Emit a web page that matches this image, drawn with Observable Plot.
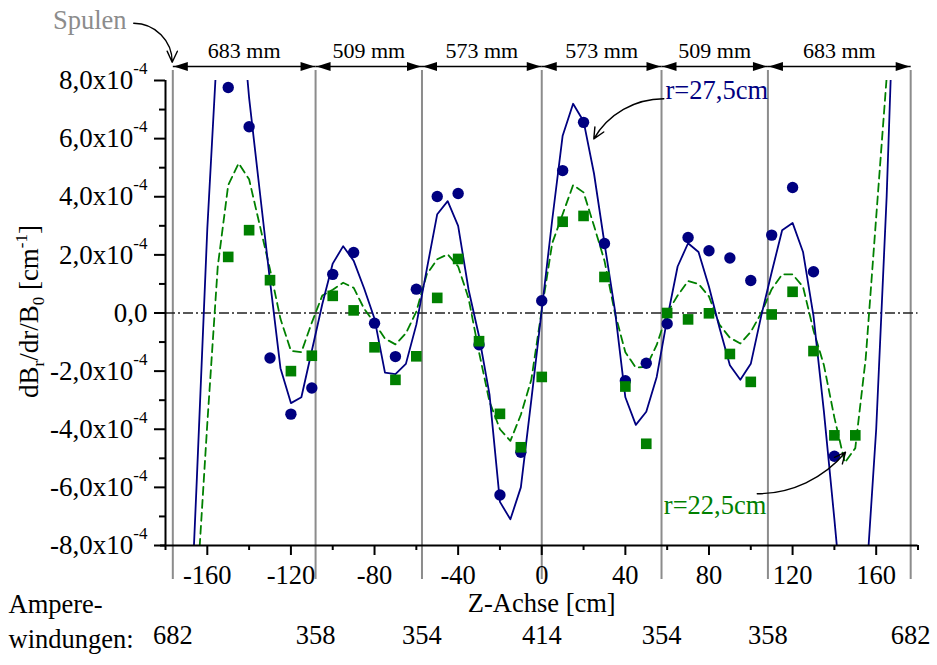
<!DOCTYPE html>
<html><head><meta charset="utf-8">
<script src="https://cdn.jsdelivr.net/npm/d3@7"></script>
<script src="https://cdn.jsdelivr.net/npm/@observablehq/plot@0.6"></script>
<style>
html,body{margin:0;padding:0;background:#fff;}
#chart svg{display:block;}
</style></head><body><div id="chart"></div>
<script>
// ---- data (values in units of 1e-4 cm^-1) ----
const coilZ = [-176.5, -108.2, -57.3, 0, 57.3, 108.2, 176.5];
const coilGaps = ["683 mm", "509 mm", "573 mm", "573 mm", "509 mm", "683 mm"];
const ampereTurns = ["682", "358", "354", "414", "354", "358", "682"];

const measZ27 = [-150,-140,-130,-120,-110,-100,-90,-80,-70,-60,-50,-40,-30,-20,-10,0,10,20,30,40,50,60,70,80,90,100,110,120,130,140];
const meas27  = [7.76,6.41,-1.55,-3.48,-2.58,1.33,2.08,-0.35,-1.5,0.82,4.01,4.11,-1.09,-6.26,-4.79,0.42,4.9,6.56,2.39,-2.33,-1.73,-0.37,2.6,2.14,1.89,1.12,2.68,4.32,1.42,-4.93];

const measZ22 = [-150,-140,-130,-120,-110,-100,-90,-80,-70,-60,-50,-40,-30,-20,-10,0,10,20,30,40,50,60,70,80,90,100,110,120,130,140,150];
const meas22  = [1.93,2.85,1.13,-2.0,-1.47,0.59,0.09,-1.18,-2.3,-1.49,0.52,1.86,-0.97,-3.47,-4.62,-2.2,3.14,3.34,1.24,-2.53,-4.5,0.0,-0.22,-0.01,-1.41,-2.37,-0.05,0.73,-1.31,-4.21,-4.21];

const simZ = [-180,-175,-170,-165,-160,-155,-150,-145,-140,-135,-130,-125,-120,-115,-110,-105,-100,-95,-90,-85,-80,-75,-70,-65,-60,-55,-50,-45,-40,-35,-30,-25,-20,-15,-10,-5,0,5,10,15,20,25,30,35,40,45,50,55,60,65,70,75,80,85,90,95,100,105,110,115,120,125,130,135,140,145,150,155,160,165,170,175,180];
const sim27 = [-32,-23,-14,-5.7,2.9,9.5,13,11.5,7.4,4.25,1.1,-1.9,-3.1,-2.9,-1.3,0.3,1.7,2.3,1.8,0.85,-0.2,-2.05,-2.1,-1.75,-0.4,1.5,3.4,3.85,3.0,0.8,-0.8,-2.8,-6.5,-7.1,-6.0,-3.0,0.1,3.2,6.1,7.2,6.6,4.8,2.4,0.1,-2.9,-3.85,-3.4,-2.2,-0.2,1.6,2.4,2.1,0.9,-0.5,-1.8,-2.3,-1.75,-0.1,1.4,2.85,3.1,2.1,-0.1,-3.4,-7.1,-11,-13,-9.5,-4.0,4.0,14.5,24,34];
const sim22 = [-25,-19,-14,-9.6,-3.8,1.6,4.4,5.15,4.6,3.05,1.5,-0.2,-1.3,-1.35,-0.33,0.6,0.8,1.04,0.87,0.15,-0.35,-0.88,-1.08,-0.7,0.05,1.33,1.85,2.02,1.6,0.5,-1.35,-3.05,-4.0,-4.4,-3.5,-2.3,0.1,2.4,3.4,4.4,4.15,3.0,1.8,0.0,-1.35,-1.88,-1.85,-1.1,0.0,0.6,1.1,1.0,0.57,-0.4,-0.85,-1.05,-0.65,0.0,0.82,1.33,1.33,0.9,-0.6,-1.8,-3.6,-5.15,-4.65,-1.55,3.3,8.1,13,19,25];

const xMajorTicks = [-160,-120,-80,-40,0,40,80,120,160];
const xMinorTicks = [-180,-140,-100,-60,-20,20,60,100,140,180];
const yMajorTicks = [-8,-6,-4,-2,0,2,4,6,8];
const yMinorTicks = [-7,-5,-3,-1,1,3,5,7];

const xLabel = "Z-Achse [cm]";
const label27 = "r=27,5cm";
const label22 = "r=22,5cm";
const labelCoils = "Spulen";
const ampLines = ["Ampere-", "windungen:"];

// annotation anchor points (data units)
const posSpulen = {x: -198.6, y: 10.06};
const pos27 = {x: 59.2, y: 7.67};
const pos22 = {x: 58.4, y: -6.61};
const arrowSpulen = {x1: -195.2, y1: 9.97, x2: -176.8, y2: 8.63};
const arrow27 = {x1: 58.4, y1: 7.37, x2: 24.9, y2: 5.99};
const arrow22 = {x1: 103.1, y1: -6.22, x2: 145.3, y2: -4.79};

// ---- derived tables ----
const dots27 = measZ27.map((z, i) => ({z, v: meas27[i]}));
const dots22 = measZ22.map((z, i) => ({z, v: meas22[i]}));
const line27 = simZ.map((z, i) => ({z, v: sim27[i]}));
const line22 = simZ.map((z, i) => ({z, v: sim22[i]}));
const segs = coilGaps.map((label, i) => ({x1: coilZ[i], x2: coilZ[i + 1], mid: (coilZ[i] + coilZ[i + 1]) / 2, label}));
const coils = coilZ.map((z, i) => ({z, amp: ampereTurns[i]}));

const headRight = {draw(ctx) { ctx.moveTo(0, 0); ctx.lineTo(-14, -4.5); ctx.lineTo(-14, 4.5); ctx.closePath(); }};
const headLeft  = {draw(ctx) { ctx.moveTo(0, 0); ctx.lineTo(14, -4.5); ctx.lineTo(14, 4.5); ctx.closePath(); }};

const yFmt = v => v === 0 ? "0,0" : v.toFixed(1).replace(".", ",") + "x10^-4";
const NAVY = "#000080", GREEN = "#008000";
const FONT = "Liberation Serif";
const FS = 26.5;
const arrowOpts = {x1: "x1", y1: "y1", x2: "x2", y2: "y2", stroke: "black", strokeWidth: 1.4, headLength: 13, headAngle: 50};

const svg = Plot.plot({
  width: 937, height: 665,
  marginLeft: 165, marginRight: 19.5, marginTop: 80, marginBottom: 120,
  x: {domain: [-180, 180], label: null},
  y: {domain: [-8, 8], label: null},
  style: {fontFamily: FONT, fontSize: FS + "px"},
  marks: [
    Plot.ruleX(coils, {x: "z", stroke: "#8c8c8c", strokeWidth: 2, insetTop: -10, insetBottom: -34}),
    Plot.ruleY([0], {stroke: "#222", strokeWidth: 1.3, strokeDasharray: "10,3,2,3"}),
    // dimension arrows
    Plot.link(segs, {x1: "x1", x2: "x2", y1: () => 8, y2: () => 8, dy: -14, stroke: "black", strokeWidth: 1.4}),
    Plot.dot(segs, {x: "x2", y: () => 8, dy: -14, dx: -1, r: 5, symbol: headRight, fill: "black", stroke: "none"}),
    Plot.dot(segs, {x: "x1", y: () => 8, dy: -14, dx: 1, r: 5, symbol: headLeft, fill: "black", stroke: "none"}),
    Plot.text(segs, {x: "mid", y: () => 8, dy: -30, text: "label", fontSize: 22}),
    // simulation curves
    Plot.line(line22, {x: "z", y: "v", stroke: GREEN, strokeWidth: 1.8, strokeDasharray: "8,5", clip: true}),
    Plot.line(line27, {x: "z", y: "v", stroke: NAVY, strokeWidth: 1.8, clip: true}),
    // measurements
    Plot.dot(dots27, {x: "z", y: "v", r: 5.7, fill: NAVY, stroke: "none"}),
    Plot.dot(dots22, {x: "z", y: "v", r: 6, symbol: "square", fill: GREEN, stroke: "none"}),
    // axes
    Plot.ruleX([-180], {stroke: "black", strokeWidth: 2}),
    Plot.ruleY([-8], {stroke: "black", strokeWidth: 2, insetLeft: -5}),
    Plot.axisX({ticks: xMajorTicks, tickSize: 10, tickPadding: 10, tickFormat: d => String(d), fontSize: FS, strokeWidth: 2, label: null}),
    Plot.axisX({ticks: xMinorTicks, tickSize: 5, tickFormat: () => "", strokeWidth: 2, label: null}),
    Plot.axisY({ticks: yMajorTicks, tickSize: 11, tickPadding: 7, tickFormat: yFmt, fontSize: 27, strokeWidth: 2, label: null}),
    Plot.axisY({ticks: yMinorTicks, tickSize: 6, tickFormat: () => "", strokeWidth: 2, label: null}),
    // bottom texts
    Plot.text([xLabel], {frameAnchor: "bottom", dy: 66, text: d => d, fontSize: FS}),
    Plot.text(coils, {x: "z", frameAnchor: "bottom", dy: 98, text: "amp", fontSize: FS}),
    Plot.text([ampLines[0]], {frameAnchor: "bottom-left", dx: -157, dy: 67, textAnchor: "start", text: d => d, fontSize: FS}),
    Plot.text([ampLines[1]], {frameAnchor: "bottom-left", dx: -157, dy: 102, textAnchor: "start", text: d => d, fontSize: FS}),
    // annotations
    Plot.arrow([arrowSpulen], {...arrowOpts, bend: 45}),
    Plot.arrow([arrow27], {...arrowOpts, bend: -30}),
    Plot.arrow([arrow22], {...arrowOpts, bend: -25}),
    Plot.text([posSpulen], {x: "x", y: "y", text: () => labelCoils, fill: "#8c8c8c", textAnchor: "end", fontSize: FS}),
    Plot.text([pos27], {x: "x", y: "y", text: () => label27, fill: NAVY, textAnchor: "start", fontSize: FS}),
    Plot.text([pos22], {x: "x", y: "y", text: () => label22, fill: GREEN, textAnchor: "start", fontSize: FS})
  ]
});

const root = d3.select(svg);

// superscript exponents on y tick labels
root.selectAll('g[aria-label="y-axis tick label"] text').each(function () {
  const s = this.textContent;
  if (!s.includes("^")) return;
  const [base, exp] = s.split("^");
  const t = d3.select(this);
  t.text(null);
  t.append("tspan").text(base);
  t.append("tspan").attr("dy", -15).attr("font-size", 17).text(exp);
});

// y-axis title with sub/superscripts
const yl = root.append("text")
  .attr("transform", "translate(38,311.5) rotate(-90)")
  .attr("text-anchor", "middle")
  .attr("font-size", 27)
  .attr("fill", "black");
yl.append("tspan").text("dB");
yl.append("tspan").attr("font-size", 17).attr("dy", 6).text("r");
yl.append("tspan").attr("dy", -6).text("/dr/B");
yl.append("tspan").attr("font-size", 17).attr("dy", 6).text("0");
yl.append("tspan").attr("dy", -6).text(" [cm");
yl.append("tspan").attr("font-size", 17).attr("dy", -11).text("-1");
yl.append("tspan").attr("dy", 11).text("]");

document.getElementById("chart").appendChild(svg);
</script></body></html>
